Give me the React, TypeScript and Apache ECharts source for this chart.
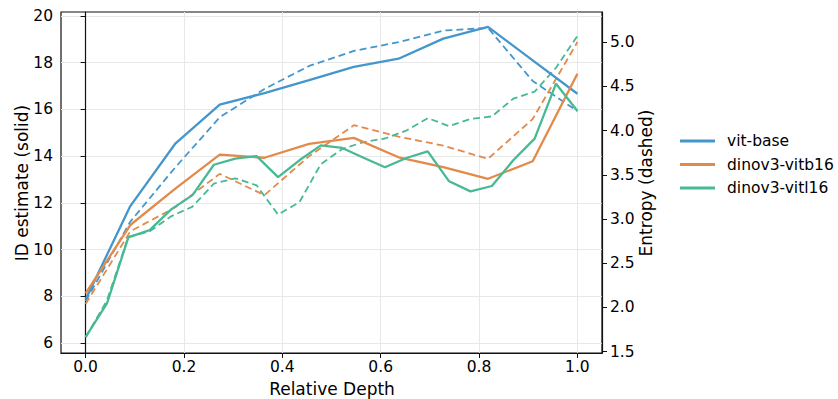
import React, { useEffect, useRef } from "react";
import * as echarts from "echarts";

// Relative depth = layer index / (layers - 1)
const layers12 = [0, 1, 2, 3, 4, 5, 6, 7, 8, 9, 10, 11];
const layers24 = [0, 1, 2, 3, 4, 5, 6, 7, 8, 9, 10, 11, 12, 13, 14, 15, 16, 17, 18, 19, 20, 21, 22, 23];

const vitBaseID = [7.86, 11.86, 14.52, 16.2, 16.7, 17.25, 17.82, 18.17, 19.03, 19.53, 18.1, 16.67];
const vitBaseEnt = [2.07, 2.97, 3.58, 4.15, 4.47, 4.73, 4.9, 5.0, 5.13, 5.16, 4.56, 4.22];

const vitb16ID = [8.12, 11.05, 12.6, 14.06, 13.93, 14.52, 14.78, 13.95, 13.53, 13.03, 13.78, 17.53];
const vitb16Ent = [2.04, 2.86, 3.13, 3.51, 3.27, 3.71, 4.06, 3.93, 3.83, 3.68, 4.13, 5.0];

const vitl16ID = [6.25, 7.69, 10.52, 10.83, 11.72, 12.33, 13.63, 13.89, 14.0, 13.1, 13.82, 14.46, 14.35, 13.93, 13.52, 13.92, 14.2, 12.92, 12.49, 12.72, 13.82, 14.75, 17.1, 15.93];
const vitl16Ent = [1.66, 2.08, 2.8, 2.86, 3.03, 3.14, 3.4, 3.46, 3.38, 3.05, 3.19, 3.62, 3.79, 3.87, 3.91, 4.0, 4.14, 4.05, 4.13, 4.16, 4.36, 4.44, 4.71, 5.07];

const xTicks = [0, 0.2, 0.4, 0.6, 0.8, 1.0];
const leftTicks = [6, 8, 10, 12, 14, 16, 18, 20];
const rightTicks = [1.5, 2.0, 2.5, 3.0, 3.5, 4.0, 4.5, 5.0];

const names = ["vit-base", "dinov3-vitb16", "dinov3-vitl16"];
const colors = ["#4496cc", "#e38a4b", "#47b994"];

const xTitle = "Relative Depth";
const leftTitle = "ID estimate (solid)";
const rightTitle = "Entropy (dashed)";

function pairs(layers: number[], vals: number[]) {
  const n = layers.length - 1;
  return layers.map((l, i) => [l / n, vals[i]]);
}

const FONT = "DejaVu Sans";

export default function App() {
  const ref = useRef<HTMLDivElement>(null);
  useEffect(() => {
    if (!ref.current) return;
    const chart = echarts.init(ref.current, undefined, { renderer: "svg" });
    const idData = [pairs(layers12, vitBaseID), pairs(layers12, vitb16ID), pairs(layers24, vitl16ID)];
    const entData = [pairs(layers12, vitBaseEnt), pairs(layers12, vitb16Ent), pairs(layers24, vitl16Ent)];
    const series: any[] = [];
    names.forEach((nm, k) => {
      series.push({
        name: nm,
        type: "line",
        xAxisIndex: 0,
        yAxisIndex: 0,
        data: idData[k],
        showSymbol: false,
        lineStyle: { color: colors[k], width: 2.3 },
        itemStyle: { color: colors[k] },
        z: 3,
      });
    });
    names.forEach((nm, k) => {
      series.push({
        name: nm + " (entropy)",
        type: "line",
        xAxisIndex: 0,
        yAxisIndex: 1,
        data: entData[k],
        showSymbol: false,
        lineStyle: { color: colors[k], width: 1.8, type: [7, 4] },
        itemStyle: { color: colors[k] },
        z: 2,
      });
    });
    const grid = "#e8e8e8";
    const titleStyle = { fontFamily: FONT, fontSize: 17, fill: "#000", align: "center", verticalAlign: "middle" };
    chart.setOption({
      animation: false,
      backgroundColor: "#fff",
      textStyle: { fontFamily: FONT },
      grid: { left: 61, right: 236, top: 12, bottom: 46, show: true, borderColor: "#111", borderWidth: 1.2, containLabel: false },
      legend: {
        data: names,
        orient: "vertical",
        left: 675,
        top: 128,
        itemWidth: 35,
        itemHeight: 3,
        itemGap: 7.5,
        icon: "rect",
        textStyle: { fontFamily: FONT, fontSize: 15.5, color: "#000", lineHeight: 16, padding: [0, 0, 0, 7] },
      },
      graphic: [
        { type: "text", x: 332, y: 389, style: { ...titleStyle, text: xTitle } },
        { type: "text", x: 22, y: 183, rotation: Math.PI / 2, style: { ...titleStyle, text: leftTitle } },
        { type: "text", x: 646, y: 183, rotation: Math.PI / 2, style: { ...titleStyle, text: rightTitle } },
      ],
      xAxis: {
        type: "value",
        min: -0.05,
        max: 1.05,
        axisLine: { show: true, lineStyle: { color: "#111", width: 1.2 } },
        axisTick: { show: true, length: 5, lineStyle: { color: "#111" }, customValues: xTicks },
        axisLabel: { fontFamily: FONT, fontSize: 15.5, color: "#000", margin: 6, customValues: xTicks, formatter: (v: number) => v.toFixed(1) },
        splitLine: { show: true, lineStyle: { color: grid, width: 1 } },
      },
      yAxis: [
        {
          type: "value",
          min: 5.57,
          max: 20.17,
          axisLine: { show: true, lineStyle: { color: "#111", width: 1.2 } },
          axisTick: { show: true, length: 5, lineStyle: { color: "#111" }, customValues: leftTicks },
          axisLabel: { fontFamily: FONT, fontSize: 15.5, color: "#000", margin: 8, customValues: leftTicks, formatter: (v: number) => String(Math.round(v)) },
          splitLine: { show: true, lineStyle: { color: grid, width: 1 } },
        },
        {
          type: "value",
          position: "right",
          min: 1.485,
          max: 5.34,
          axisLine: { show: true, lineStyle: { color: "#111", width: 1.2 } },
          axisTick: { show: true, length: 5, lineStyle: { color: "#111" }, customValues: rightTicks },
          axisLabel: { fontFamily: FONT, fontSize: 15.5, color: "#000", margin: 8, customValues: rightTicks, formatter: (v: number) => v.toFixed(1) },
          splitLine: { show: false },
        },
      ],
      series,
    });
    return () => chart.dispose();
  }, []);
  return <div ref={ref} style={{ width: 838, height: 399, position: "absolute", left: 0, top: 0 }} />;
}
